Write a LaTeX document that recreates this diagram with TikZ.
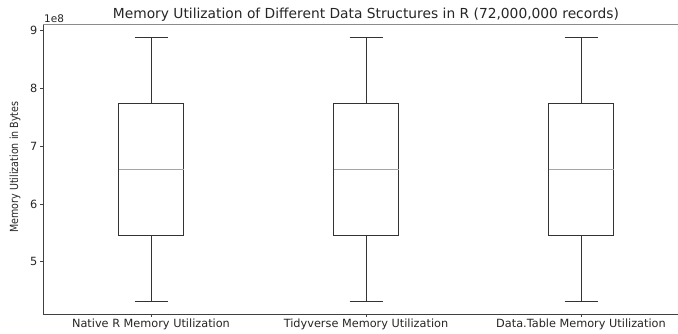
\documentclass[tikz,border=0pt]{standalone}
\usepackage{fontspec}
\setmainfont{DejaVu Sans}
\usepackage{graphicx}

\tikzset{
  spine/.style={line width=0.9pt,black!75},
  boxline/.style={line width=0.9pt,black!80},
  medline/.style={line width=0.9pt,black!35},
  ticklab/.style={font=\fontsize{11.3}{13}\selectfont,text=black!85,inner sep=1pt}
}

\begin{document}
\begin{tikzpicture}[x=1pt,y=1pt]
  \useasboundingbox (0,0) rectangle (678,333);
  \fill[white] (0,0) rectangle (678,333);
  % axes
  \draw[spine] (43,309)--(43,19)--(678,19);
  \draw[spine,black!45] (43,309)--(678,309);
  % y ticks (units of 1e8)
  \foreach \v/\yy in {9/302.3,8/244.5,7/186.7,6/129,5/71.2}{
    \draw[spine] (43,\yy)--(40,\yy);
    \node[ticklab,anchor=east] (ytick\v) at (38.5,\yy) {\v};
  }
  \node[ticklab,anchor=south west,font=\fontsize{10.5}{12}\selectfont] (expo) at (43,309.5) {1e8};
  \node[rotate=90,font=\fontsize{11.2}{12}\selectfont,text=black!85] (ylab) at (15,166)
    {\scalebox{0.85}[1]{Memory Utilization in Bytes}};
  % boxes
  \foreach \c/\name/\lab in {151/native/Native R Memory Utilization,
      366/tidy/Tidyverse Memory Utilization,
      581/dt/Data.Table Memory Utilization}{
    \draw[boxline] (\c-32.5,98) rectangle (\c+32.5,229.7);
    \draw[boxline] (\c,229.7)--(\c,295.7) (\c-16.5,295.7)--(\c+16.5,295.7);
    \draw[boxline] (\c,98)--(\c,32) (\c-16.5,32)--(\c+16.5,32);
    \draw[medline] (\c-32.5,163.7)--(\c+32.5,163.7);
    \draw[spine] (\c,19)--(\c,16);
    \node[ticklab,anchor=center] (\name) at (\c,9) {\lab};
  }
  \node[font=\fontsize{13.8}{15}\selectfont,text=black!85] (title) at (366,318) 
    {Memory Utilization of Different Data Structures in R (72,000,000 records)};
\end{tikzpicture}
\end{document}
